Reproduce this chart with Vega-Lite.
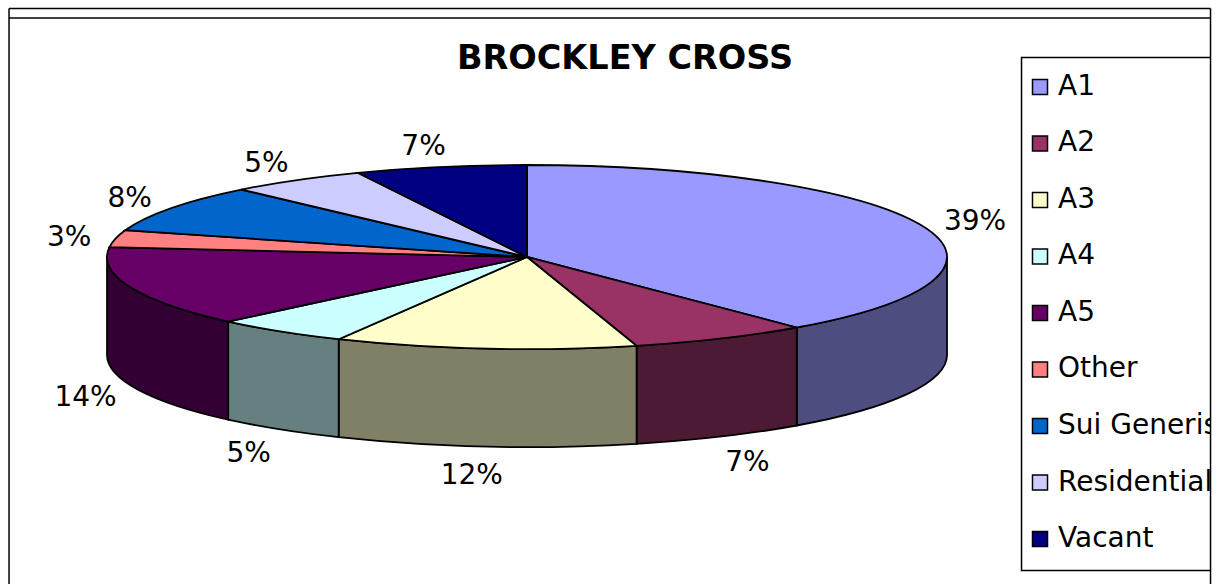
{"$schema":"https://vega.github.io/schema/vega-lite/v6.json","width":1218,"height":584,"padding":0,"autosize":{"type":"none"},"background":"white","config":{"view":{"stroke":null}},
"title":{"text":"BROCKLEY CROSS","anchor":"middle","dx":16,"offset":-102,"baseline":"middle","font":"DejaVu Sans","fontSize":33.5,"fontWeight":"bold","color":"black"},
"data":{"values":[{"name":"A1","share":0.389},{"name":"A2","share":0.069},{"name":"A3","share":0.116},{"name":"A4","share":0.052},{"name":"A5","share":0.141},{"name":"Other","share":0.03},{"name":"Sui Generis","share":0.084},{"name":"Residential","share":0.053},{"name":"Vacant","share":0.066}]},
"transform":[
{"window":[{"op":"sum","field":"share","as":"cum"},{"op":"row_number","as":"rowNo"}],"frame":[null,0]},
{"calculate":"2*PI*(datum.cum-datum.share)","as":"a0"},
{"calculate":"2*PI*datum.cum","as":"a1"},
{"calculate":"(datum.a0+datum.a1)/2","as":"mid"},
{"calculate":"92/420","as":"k"},
{"calculate":"98/420","as":"d"},
{"calculate":"round(sin(datum.a0)*1e5)/1e5","as":"x0"},
{"calculate":"round(-datum.k*cos(datum.a0)*1e5)/1e5","as":"y0"},
{"calculate":"round(sin(datum.a1)*1e5)/1e5","as":"x1"},
{"calculate":"round(-datum.k*cos(datum.a1)*1e5)/1e5","as":"y1"},
{"calculate":"'M0,0L'+datum.x0+','+datum.y0+'A1,'+datum.k+' 0 0 1 '+datum.x1+','+datum.y1+'Z'","as":"topPath"},
{"calculate":"clamp(datum.a0,PI/2,3*PI/2)","as":"w0"},
{"calculate":"clamp(datum.a1,PI/2,3*PI/2)","as":"w1"},
{"calculate":"round(sin(datum.w0)*1e5)/1e5","as":"wx0"},
{"calculate":"round(-datum.k*cos(datum.w0)*1e5)/1e5","as":"wy0"},
{"calculate":"round(sin(datum.w1)*1e5)/1e5","as":"wx1"},
{"calculate":"round(-datum.k*cos(datum.w1)*1e5)/1e5","as":"wy1"},
{"calculate":"'M'+datum.wx0+','+datum.wy0+'A1,'+datum.k+' 0 0 1 '+datum.wx1+','+datum.wy1+'L'+datum.wx1+','+(datum.wy1+datum.d)+'A1,'+datum.k+' 0 0 0 '+datum.wx0+','+(datum.wy0+datum.d)+'Z'","as":"wallPath"},
{"calculate":"sin(datum.mid)<0?1.09*sin(datum.mid)-0.022:1.135*sin(datum.mid)","as":"lx"},
{"calculate":"-1.272*cos(datum.mid)+(cos(datum.mid)<0?1.065:0)+0.05","as":"ly"},
{"calculate":"-1.8478+0.6141*(datum.rowNo-1)","as":"legendRow"}
],
"layer":[
{"data":{"values":[{}]},"transform":[],"mark":{"type":"rect","fill":"white","stroke":"black","strokeWidth":1.5},"encoding":{
"x":{"datum":1.1774,"type":"quantitative","axis":null,"scale":{"domain":[-1.2548,1.6452],"nice":false,"zero":false}},"x2":{"datum":1.66},
"y":{"datum":-2.168,"type":"quantitative","axis":null,"scale":{"domain":[-2.793,3.554],"nice":false,"zero":false,"reverse":true}},"y2":{"datum":3.408}}},
{"mark":{"type":"square","filled":true,"opacity":1,"stroke":"black","strokeWidth":1.5,"size":225},"encoding":{
"x":{"datum":1.2214,"type":"quantitative"},"y":{"field":"legendRow","type":"quantitative"},
"color":{"field":"name","type":"nominal","legend":null,"scale":{"domain":["A1","A2","A3","A4","A5","Other","Sui Generis","Residential","Vacant"],"range":["#9999ff","#993366","#ffffcc","#ccffff","#660066","#ff8080","#0066cc","#ccccff","#000080"]}}}},
{"mark":{"type":"text","font":"DejaVu Sans","fontSize":28,"color":"black","baseline":"middle","align":"left"},"encoding":{
"x":{"datum":1.2643,"type":"quantitative"},"y":{"field":"legendRow","type":"quantitative"},
"text":{"field":"name","type":"nominal"}}},
{"data":{"values":[{}]},"transform":[],"mark":{"type":"rect","fill":"white","stroke":null},"encoding":{
"x":{"datum":1.6274,"type":"quantitative"},"x2":{"datum":1.7},
"y":{"datum":-2.9,"type":"quantitative"},"y2":{"datum":3.8}}},
{"data":{"values":[{}]},"transform":[],"mark":{"type":"rule","stroke":"black","strokeWidth":1.5},"encoding":{
"x":{"datum":-1.2333,"type":"quantitative"},"x2":{"datum":1.6274},
"y":{"datum":-2.701,"type":"quantitative"}}},
{"data":{"values":[{}]},"transform":[],"mark":{"type":"rule","stroke":"black","strokeWidth":1.5},"encoding":{
"x":{"datum":-1.2333,"type":"quantitative"},"x2":{"datum":1.6274},
"y":{"datum":-2.598,"type":"quantitative"}}},
{"data":{"values":[{}]},"transform":[],"mark":{"type":"rule","stroke":"black","strokeWidth":1.5},"encoding":{
"x":{"datum":-1.2333,"type":"quantitative"},
"y":{"datum":-2.701,"type":"quantitative"},"y2":{"datum":3.8}}},
{"data":{"values":[{}]},"transform":[],"mark":{"type":"rule","stroke":"black","strokeWidth":1.5},"encoding":{
"x":{"datum":1.6274,"type":"quantitative"},
"y":{"datum":-2.701,"type":"quantitative"},"y2":{"datum":3.8}}},
{"transform":[{"filter":"datum.w1>datum.w0"}],"mark":{"type":"point","filled":true,"opacity":1,"stroke":"black","strokeWidth":1.8,"size":705600},"encoding":{
"x":{"datum":0,"type":"quantitative"},"y":{"datum":0,"type":"quantitative"},
"shape":{"field":"wallPath","type":"nominal","scale":null},
"fill":{"field":"name","type":"nominal","legend":null,"scale":{"domain":["A1","A2","A3","A4","A5","Other","Sui Generis","Residential","Vacant"],"range":["#4d4d80","#4d1a33","#808066","#668080","#330033","#804040","#003366","#666680","#000040"]}}}},
{"mark":{"type":"point","filled":true,"opacity":1,"stroke":"black","strokeWidth":1.8,"size":705600},"encoding":{
"x":{"datum":0,"type":"quantitative"},"y":{"datum":0,"type":"quantitative"},
"shape":{"field":"topPath","type":"nominal","scale":null},
"color":{"field":"name","type":"nominal","legend":null}}},
{"mark":{"type":"text","font":"DejaVu Sans","fontSize":28,"color":"black","baseline":"middle","align":"center"},"encoding":{
"x":{"field":"lx","type":"quantitative"},"y":{"field":"ly","type":"quantitative"},
"text":{"field":"share","type":"quantitative","format":".0%"}}}
]}
